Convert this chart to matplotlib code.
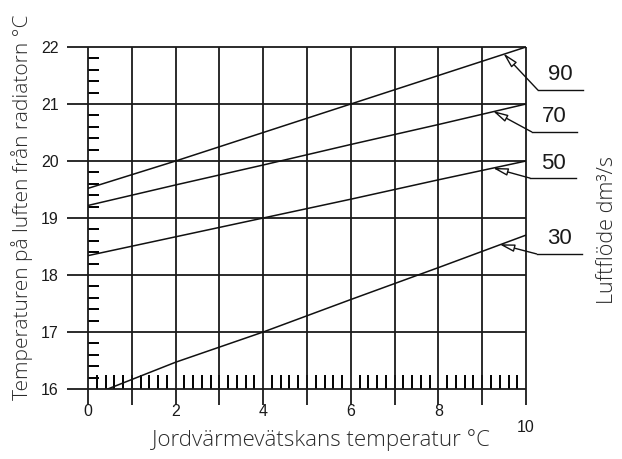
import matplotlib.pyplot as plt
from matplotlib.ticker import MultipleLocator

# data
x_ticks = [0, 2, 4, 6, 8, 10]
y_ticks = [16, 17, 18, 19, 20, 21, 22]

flow_labels = ['90', '70', '50', '30']
x_90 = [0, 2, 4, 6, 8, 10]
y_90 = [19.52, 20.0, 20.5, 21.0, 21.5, 22.0]
x_70 = [0, 2, 4, 6, 8, 10]
y_70 = [19.22, 19.58, 19.93, 20.29, 20.64, 21.0]
x_50 = [0, 2, 4, 6, 8, 10]
y_50 = [18.34, 18.67, 19.0, 19.33, 19.67, 20.0]
x_30 = [0.45, 2, 4, 6, 8, 10]
y_30 = [16.0, 16.47, 17.0, 17.57, 18.13, 18.7]

# where the leader arrows touch the curves
tip_x = [9.48, 9.24, 9.24, 9.39]
tip_y = [21.89, 20.88, 19.88, 18.54]

plt.rcParams['font.family'] = ['Liberation Sans', 'DejaVu Sans']
light = ['Open Sans', 'DejaVu Sans']
txt_col = '#2a2a2a'

fig = plt.figure(figsize=(6.22, 4.59), dpi=100)
ax = fig.add_axes([0.1415, 0.1525, 0.7042, 0.7451])
ax.set_xlim(0, 10)
ax.set_ylim(16, 22)
for s in ax.spines.values():
    s.set_visible(False)

lw = 1.3
# grid lines, sticking out past the plot on left and bottom
ax.hlines(y_ticks, -0.48, 10, color='#1a1a1a', lw=lw, clip_on=False)
ax.vlines(range(0, 11), 15.72, 22, color='#1a1a1a', lw=lw, clip_on=False)

for xs, ys in [(x_90, y_90), (x_70, y_70), (x_50, y_50), (x_30, y_30)]:
    ax.plot(xs, ys, color='#111111', lw=1.1)

# ticks
ax.set_xticks(x_ticks)
ax.set_yticks(y_ticks)
ax.xaxis.set_minor_locator(MultipleLocator(0.2))
ax.yaxis.set_minor_locator(MultipleLocator(0.2))
ax.tick_params(which='major', length=0, labelcolor='#1a1a1a')
ax.tick_params(axis='x', which='major', pad=11, labelsize=11.5)
ax.tick_params(axis='y', which='major', pad=21, labelsize=11.5)
ax.tick_params(axis='x', which='minor', direction='in', length=10, width=1.4)
ax.tick_params(axis='y', which='minor', direction='in', length=8, width=1.4)
ax.xaxis.get_major_ticks()[-1].set_pad(22)

fig.text(0.516, 0.041, 'Jordvärmevätskans temperatur °C', ha='center', va='center',
         family=light, fontweight='light', color=txt_col, fontsize=16)
fig.text(0.035, 0.549, 'Temperaturen på luften från radiatorn °C', rotation=90,
         ha='center', va='center', family=light, fontweight='light', color=txt_col,
         fontsize=15)
fig.text(0.976, 0.50, 'Luftflöde dm³/s', rotation=90, ha='center', va='center',
         family=light, fontweight='light', color=txt_col, fontsize=15.5)

# leader lines with labels
elbow_x = [10.27, 10.13, 10.09, 10.24]
elbow_y = [21.245, 20.51, 19.70, 18.37]
end_x = [11.3, 11.16, 11.14, 11.27]
for i, lab in enumerate(flow_labels):
    ax.annotate('', xy=(tip_x[i], tip_y[i]), xytext=(elbow_x[i], elbow_y[i]),
                arrowprops=dict(arrowstyle='-|>,head_length=0.9,head_width=0.22',
                                fc='white', ec='#111111', lw=1.0, shrinkA=0, shrinkB=0),
                annotation_clip=False)
    ax.plot([elbow_x[i], end_x[i]], [elbow_y[i], elbow_y[i]], color='#111111',
            lw=1.0, clip_on=False)
    ax.text((elbow_x[i] + end_x[i]) / 2, elbow_y[i] + 0.08, lab, ha='center',
            va='bottom', fontsize=16, color='#1a1a1a')

fig.savefig('out.png', dpi=100)
